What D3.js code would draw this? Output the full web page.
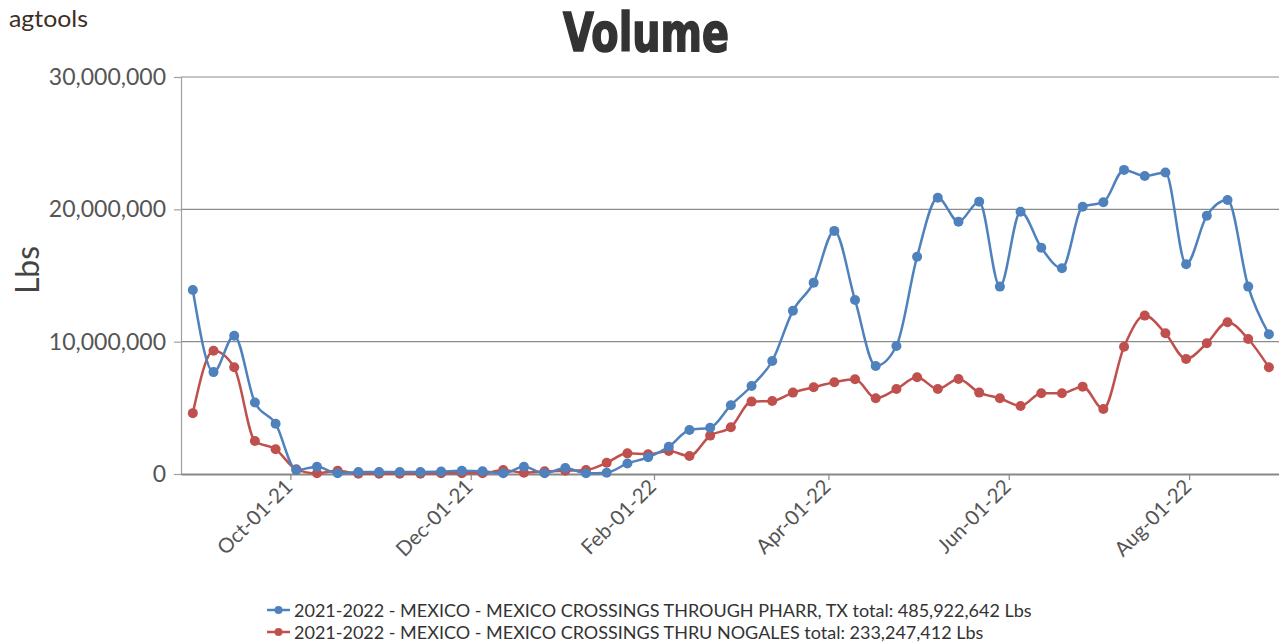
<!DOCTYPE html>
<html>
<head>
<meta charset="utf-8">
<script src="https://cdn.jsdelivr.net/npm/d3@7/dist/d3.min.js"></script>
<style>
  html, body { margin: 0; padding: 0; background: #fff; }
  svg { display: block; }
</style>
</head>
<body>
<svg id="chart" width="1279" height="643"></svg>
<script>
const dates = [
  "2021-08-29","2021-09-05","2021-09-12","2021-09-19","2021-09-26","2021-10-03","2021-10-10","2021-10-17",
  "2021-10-24","2021-10-31","2021-11-07","2021-11-14","2021-11-21","2021-11-28","2021-12-05","2021-12-12",
  "2021-12-19","2021-12-26","2022-01-02","2022-01-09","2022-01-16","2022-01-23","2022-01-30","2022-02-06",
  "2022-02-13","2022-02-20","2022-02-27","2022-03-06","2022-03-13","2022-03-20","2022-03-27","2022-04-03",
  "2022-04-10","2022-04-17","2022-04-24","2022-05-01","2022-05-08","2022-05-15","2022-05-22","2022-05-29",
  "2022-06-05","2022-06-12","2022-06-19","2022-06-26","2022-07-03","2022-07-10","2022-07-17","2022-07-24",
  "2022-07-31","2022-08-07","2022-08-14","2022-08-21","2022-08-28"
];
const pharrValues = [
  13900000, 7700000, 10450000, 5400000, 3800000, 300000, 550000, 50000,
  150000, 150000, 150000, 150000, 180000, 250000, 200000, 50000,
  550000, 50000, 450000, 50000, 100000, 800000, 1260000, 2060000,
  3330000, 3500000, 5200000, 6650000, 8540000, 12340000, 14460000, 18370000,
  13150000, 8160000, 9670000, 16420000, 20880000, 19070000, 20580000, 14160000,
  19820000, 17100000, 15550000, 20200000, 20540000, 22980000, 22520000, 22780000,
  15850000, 19520000, 20710000, 14160000, 10560000
];
const nogalesValues = [
  4600000, 9320000, 8060000, 2490000, 1870000, 350000, 50000, 250000,
  20000, 20000, 20000, 20000, 50000, 50000, 50000, 300000,
  100000, 200000, 250000, 300000, 850000, 1560000, 1490000, 1740000,
  1360000, 2900000, 3530000, 5470000, 5520000, 6150000, 6550000, 6930000,
  7160000, 5720000, 6420000, 7310000, 6420000, 7180000, 6150000, 5720000,
  5140000, 6100000, 6100000, 6600000, 4910000, 9620000, 11970000, 10630000,
  8690000, 9880000, 11470000, 10200000, 8060000
];
const seriesNames = [
  "2021-2022 - MEXICO - MEXICO CROSSINGS THROUGH PHARR, TX total: 485,922,642 Lbs",
  "2021-2022 - MEXICO - MEXICO CROSSINGS THRU NOGALES total: 233,247,412 Lbs"
];
const seriesColors = ["#4F81BC", "#C0504E"];
const yTicks = [0, 10000000, 20000000, 30000000];
const xTickDates = ["2021-10-01","2021-12-01","2022-02-01","2022-04-01","2022-06-01","2022-08-01"];
const chartTitle = "Volume";
const yAxisTitle = "Lbs";
const brand = "agtools";

(function () {
const parse = d3.timeParse("%Y-%m-%d");
const svg = d3.select("#chart");
const pLeft = 181, pRight = 1279, pTop = 77, pBottom = 474;

const x = d3.scaleTime()
  .domain([new Date(2021, 7, 25), new Date(2022, 7, 31, 10)])
  .range([pLeft, pRight]);
const y = d3.scaleLinear().domain([0, 30000000]).range([pBottom, pTop]);

const font = "Lato, 'Open Sans', sans-serif";

svg.append("text").attr("x", 9).attr("y", 27)
  .attr("font-family", font).attr("font-size", 24).attr("fill", "#3e2f25")
  .attr("textLength", 79).attr("lengthAdjust", "spacingAndGlyphs")
  .text(brand);

svg.append("text").attr("x", 646).attr("y", 51)
  .attr("text-anchor", "middle")
  .attr("font-family", "'Liberation Sans Narrow', 'DejaVu Sans Condensed', sans-serif")
  .attr("font-weight", "bold").attr("font-size", 54).attr("fill", "#333")
  .attr("stroke", "#333").attr("stroke-width", 1.6)
  .attr("textLength", 166).attr("lengthAdjust", "spacingAndGlyphs")
  .text(chartTitle);

svg.append("g").selectAll("line").data(yTicks.filter(d => d > 0)).join("line")
  .attr("x1", pLeft).attr("x2", pRight)
  .attr("y1", d => y(d)).attr("y2", d => y(d))
  .attr("stroke", "#8c8c8c").attr("stroke-width", 1.2);

const yAxis = d3.axisLeft(y).tickValues(yTicks).tickFormat(d3.format(",")).tickSize(7).tickPadding(8);
const gy = svg.append("g").attr("transform", `translate(${pLeft},0)`).call(yAxis);
gy.select(".domain").attr("stroke", "#a0a0a0").attr("stroke-width", 1.2);
gy.selectAll(".tick line").attr("stroke", "#a0a0a0").attr("stroke-width", 1.2);
gy.selectAll(".tick text").attr("font-family", font).attr("font-size", 23).attr("fill", "#555");

const xAxis = d3.axisBottom(x).tickValues(xTickDates.map(parse))
  .tickFormat(d3.timeFormat("%b-%d-%y")).tickSize(6).tickSizeOuter(0);
const gx = svg.append("g").attr("transform", `translate(0,${pBottom})`).call(xAxis);
gx.select(".domain").attr("stroke", "#888").attr("stroke-width", 2);
gx.selectAll(".tick line").attr("stroke", "#888").attr("stroke-width", 1.2);
gx.selectAll(".tick text")
  .attr("font-family", font).attr("font-size", 20.5).attr("fill", "#555")
  .attr("text-anchor", "end").attr("dy", null).attr("y", 0)
  .attr("transform", "translate(3,14) rotate(-45)");

svg.append("text").attr("transform", "translate(39,270) rotate(-90)")
  .attr("text-anchor", "middle").attr("font-family", font).attr("font-size", 32).attr("fill", "#444")
  .text(yAxisTitle);

const series = [
  { name: seriesNames[1], color: seriesColors[1], values: nogalesValues },
  { name: seriesNames[0], color: seriesColors[0], values: pharrValues }
];
const line = d3.line().x(d => x(d.date)).y(d => y(d.v)).curve(d3.curveMonotoneX);
series.forEach(s => {
  const pts = dates.map((d, i) => ({ date: parse(d), v: s.values[i] }));
  const g = svg.append("g");
  g.append("path").datum(pts).attr("d", line)
    .attr("fill", "none").attr("stroke", s.color).attr("stroke-width", 2.5);
  g.selectAll("circle").data(pts).join("circle")
    .attr("cx", d => x(d.date)).attr("cy", d => y(d.v)).attr("r", 5)
    .attr("fill", s.color);
});

const legendItems = [
  { name: seriesNames[0], color: seriesColors[0] },
  { name: seriesNames[1], color: seriesColors[1] }
];
const lg = svg.append("g");
legendItems.forEach((it, i) => {
  const cy = 610 + i * 22;
  lg.append("line").attr("x1", 267).attr("x2", 290).attr("y1", cy).attr("y2", cy)
    .attr("stroke", it.color).attr("stroke-width", 2.5);
  lg.append("circle").attr("cx", 278.5).attr("cy", cy).attr("r", 4).attr("fill", it.color);
  lg.append("text").attr("x", 294).attr("y", cy + 6.5)
    .attr("font-family", font).attr("font-size", 18).attr("fill", "#333")
    .text(it.name);
});
})();
</script>
</body>
</html>
